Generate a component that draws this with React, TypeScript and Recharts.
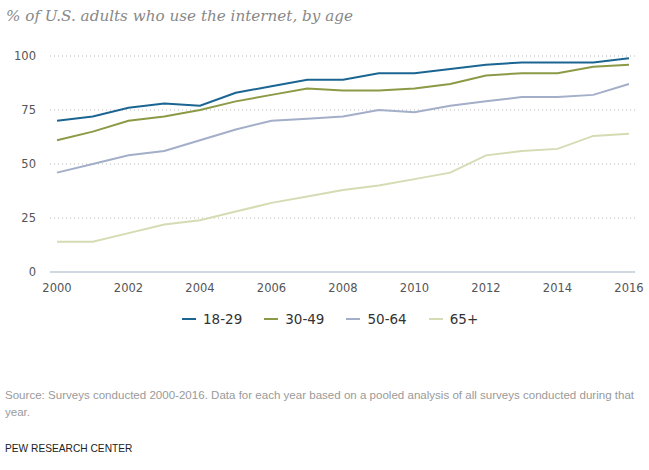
import React from 'react'
import { LineChart, XAxis, YAxis, CartesianGrid, Line, ReferenceLine } from 'recharts';

const years = [2000, 2001, 2002, 2003, 2004, 2005, 2006, 2007, 2008, 2009, 2010, 2011, 2012, 2013, 2014, 2015, 2016];
const age18to29 = [70, 72, 76, 78, 77, 83, 86, 89, 89, 92, 92, 94, 96, 97, 97, 97, 99];
const age30to49 = [61, 65, 70, 72, 75, 79, 82, 85, 84, 84, 85, 87, 91, 92, 92, 95, 96];
const age50to64 = [46, 50, 54, 56, 61, 66, 70, 71, 72, 75, 74, 77, 79, 81, 81, 82, 87];
const age65plus = [14, 14, 18, 22, 24, 28, 32, 35, 38, 40, 43, 46, 54, 56, 57, 63, 64];
const xTicks = [2000, 2002, 2004, 2006, 2008, 2010, 2012, 2014, 2016];
const yTicks = [0, 25, 50, 75, 100];

const series = [
  { key: 'a', name: '18-29', color: '#1b6592' },
  { key: 'b', name: '30-49', color: '#8b9a45' },
  { key: 'c', name: '50-64', color: '#a3aec8' },
  { key: 'd', name: '65+', color: '#d5dcb4' },
];

const data = years.map((year, i) => ({
  year,
  a: age18to29[i],
  b: age30to49[i],
  c: age50to64[i],
  d: age65plus[i],
}));

const sans = '"DejaVu Sans", Verdana, sans-serif';

export default function App() {
  return (
    <div style={{ position: 'absolute', left: 0, top: 0, width: 649, height: 470, background: '#fff' }}>
      <div style={{
        position: 'absolute', left: 6, top: 7, fontFamily: '"DejaVu Serif", Georgia, serif',
        fontStyle: 'italic', fontSize: 15.2, color: '#888', whiteSpace: 'nowrap'
      }}>
        % of U.S. adults who use the internet, by age
      </div>

      <div style={{ position: 'absolute', left: 0, top: 0 }}>
        <LineChart width={649} height={300} data={data} margin={{ top: 56, right: 14, left: 10, bottom: 0 }}>
          <CartesianGrid horizontal={true} vertical={false} stroke="#b8b8b8" strokeDasharray="1 3" />
          <XAxis
            dataKey="year"
            type="number"
            domain={[2000, 2016]}
            ticks={xTicks}
            padding={{ left: 7, right: 6 }}
            height={28}
            tickLine={false}
            tickSize={0}
            tickMargin={12}
            axisLine={{ stroke: '#c5cdd9', strokeWidth: 1 }}
            tick={{ fill: '#555', fontSize: 11.5, fontFamily: sans }}
          />
          <YAxis
            domain={[0, 100]}
            ticks={yTicks}
            width={40}
            axisLine={false}
            tickLine={false}
            tickSize={0}
            tickMargin={14}
            tick={{ fill: '#555', fontSize: 11.5, fontFamily: sans }}
          />
          <ReferenceLine y={0} stroke="#c5cdd9" />
          {series.slice().reverse().map(s => (
            <Line key={s.key} type="linear" dataKey={s.key} stroke={s.color} strokeWidth={2} dot={false} isAnimationActive={false} />
          ))}
        </LineChart>
      </div>

      <div style={{ position: 'absolute', left: 182, top: 310, height: 18, display: 'flex', alignItems: 'center' }}>
        {series.map(s => (
          <div key={s.key} style={{ display: 'flex', alignItems: 'center', marginRight: 22 }}>
            <span style={{ display: 'inline-block', width: 14, height: 2, background: s.color, marginRight: 7 }} />
            <span style={{ fontFamily: sans, fontSize: 13.5, color: '#333' }}>{s.name}</span>
          </div>
        ))}
      </div>

      <div style={{
        position: 'absolute', left: 5, top: 387, fontFamily: '"Liberation Sans", Arial, sans-serif',
        fontSize: 11.55, lineHeight: '17px', color: '#9a9a9a', whiteSpace: 'nowrap'
      }}>
        Source: Surveys conducted 2000-2016. Data for each year based on a pooled analysis of all surveys conducted during that<br />year.
      </div>

      <div style={{
        position: 'absolute', left: 5, top: 443, fontFamily: '"Liberation Sans", Arial, sans-serif',
        fontSize: 10.2, color: '#222', whiteSpace: 'nowrap'
      }}>
        PEW RESEARCH CENTER
      </div>
    </div>
  )
}
